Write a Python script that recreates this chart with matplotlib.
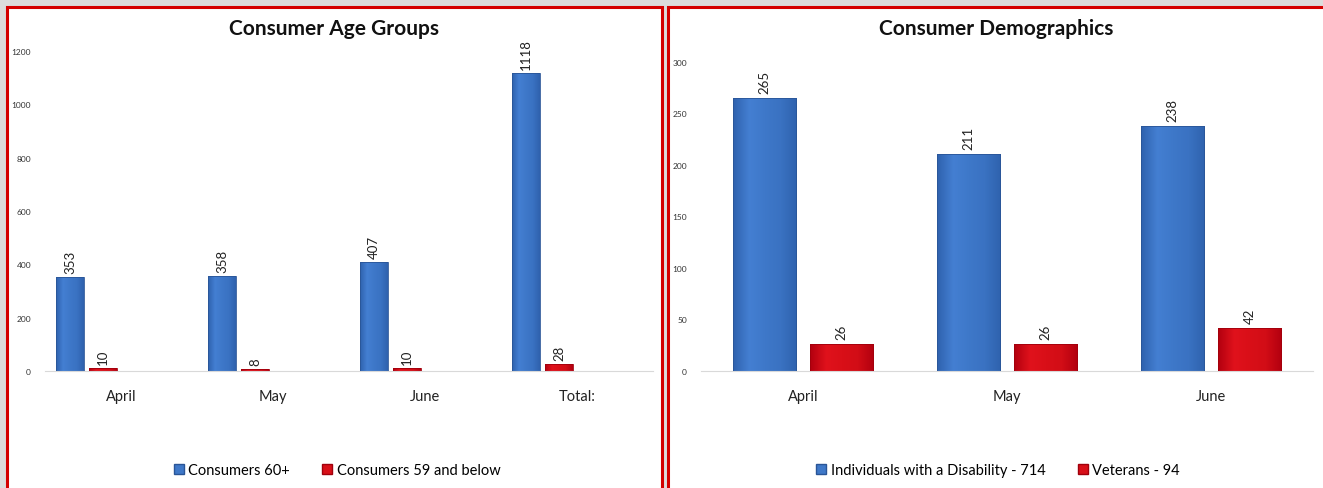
import numpy as np
import matplotlib
matplotlib.use('Agg')
import matplotlib.pyplot as plt
from matplotlib.patches import Rectangle, Patch
from matplotlib.colors import LinearSegmentedColormap

plt.rcParams['font.family'] = ['Lato', 'DejaVu Sans']

# left chart data
age_months = ['April', 'May', 'June', 'Total:']
age_60_plus = [353, 358, 407, 1118]
age_59_below = [10, 8, 10, 28]
age_ticks = [0, 200, 400, 600, 800, 1000, 1200]

# right chart data
demo_months = ['April', 'May', 'June']
disability = [265, 211, 238]
veterans = [26, 26, 42]
demo_ticks = [0, 50, 100, 150, 200, 250, 300]

BLUE_CM = LinearSegmentedColormap.from_list('b', ['#2f62ae', '#447fd2', '#3e78c9', '#3a72c2', '#2f62ae'])
RED_CM = LinearSegmentedColormap.from_list('r', ['#b3000f', '#e0121c', '#d90f18', '#d20d16', '#b3000f'])


def gradient_bars(ax, x, vals, width, cmap, edge):
    bars = ax.bar(x, vals, width, color='none', edgecolor=edge, linewidth=0.6, zorder=3)
    grad = np.linspace(0, 1, 64).reshape(1, -1)
    for b in bars:
        bx, by = b.get_x(), b.get_y()
        im = ax.imshow(grad, extent=[bx, bx + b.get_width(), by, by + b.get_height()],
                       cmap=cmap, aspect='auto', zorder=2)
        im.set_clip_path(b)
    return bars


def style_axis(ax, cats, ticks, ymax):
    ax.set_xticks(range(len(cats)))
    ax.set_xticklabels(cats, fontsize=10.5, color='#222222')
    ax.set_yticks(ticks)
    ax.set_yticklabels([str(t) for t in ticks], fontsize=6, color='#333333')
    ax.set_xlim(-0.5, len(cats) - 0.5)
    ax.set_ylim(0, ymax)
    ax.tick_params(length=0, pad=13)
    ax.tick_params(axis='y', pad=10)
    for s in ['top', 'right', 'left']:
        ax.spines[s].set_visible(False)
    ax.spines['bottom'].set_color('#d9d9d9')
    ax.set_facecolor('none')


def label_bars(ax, bars, vals, off):
    for b, v in zip(bars, vals):
        ax.text(b.get_x() + b.get_width() / 2, v + off, str(v), rotation=90,
                ha='center', va='bottom', fontsize=9.5, color='#222222')


fig = plt.figure(figsize=(13.23, 4.89), dpi=100)
fig.patch.set_facecolor('#dcdcdc')

W, H = 1323.0, 489.0
# panel backgrounds with red borders
for x0, x1 in [(7, 662), (668, 1330)]:
    fig.patches.append(Rectangle((x0 / W, -0.05), (x1 - x0) / W, (H - 8) / H + 0.05,
                                 transform=fig.transFigure, facecolor='white',
                                 edgecolor='#d40000', linewidth=2.2, zorder=-5))

# left chart
ax1 = fig.add_axes([45 / W, 117 / H, 608 / W, 320 / H])
ax1.set_zorder(2)
x = np.arange(len(age_months))
w = 0.18
b1 = gradient_bars(ax1, x - 0.335, age_60_plus, w, BLUE_CM, '#2a5597')
b2 = gradient_bars(ax1, x - 0.118, age_59_below, w, RED_CM, '#a0000c')
label_bars(ax1, b1, age_60_plus, 15)
label_bars(ax1, b2, age_59_below, 15)
style_axis(ax1, age_months, age_ticks, 1200)
fig.text(334 / W, 1 - 29 / H, 'Consumer Age Groups', ha='center', va='center',
         fontsize=15, fontweight='bold', color='#111111')
fig.legend(handles=[Patch(facecolor='#3f78c8', edgecolor='#2a5597', label='Consumers 60+'),
                    Patch(facecolor='#d80f18', edgecolor='#a0000c', label='Consumers 59 and below')],
           loc='center', bbox_to_anchor=(337 / W, 1 - 471 / H), ncol=2, frameon=False,
           fontsize=10.5, handlelength=0.7, handleheight=0.7, handletextpad=0.3, columnspacing=2.2)

# right chart
ax2 = fig.add_axes([701 / W, 117 / H, 612 / W, 309 / H])
ax2.set_zorder(2)
x = np.arange(len(demo_months))
w = 0.31
b3 = gradient_bars(ax2, x - 0.19, disability, w, BLUE_CM, '#2a5597')
b4 = gradient_bars(ax2, x + 0.19, veterans, w, RED_CM, '#a0000c')
label_bars(ax2, b3, disability, 5)
label_bars(ax2, b4, veterans, 5)
style_axis(ax2, demo_months, demo_ticks, 300)
fig.text(996 / W, 1 - 29 / H, 'Consumer Demographics', ha='center', va='center',
         fontsize=15, fontweight='bold', color='#111111')
fig.legend(handles=[Patch(facecolor='#3f78c8', edgecolor='#2a5597', label='Individuals with a Disability - 714'),
                    Patch(facecolor='#d80f18', edgecolor='#a0000c', label='Veterans - 94')],
           loc='center', bbox_to_anchor=(998 / W, 1 - 471 / H), ncol=2, frameon=False,
           fontsize=10.5, handlelength=0.7, handleheight=0.7, handletextpad=0.3, columnspacing=2.2)

fig.savefig('out.png', dpi=100, facecolor=fig.get_facecolor())
